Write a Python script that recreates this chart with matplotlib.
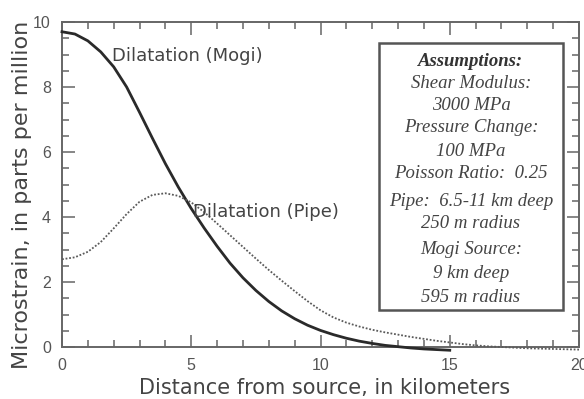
import matplotlib.pyplot as plt
from matplotlib.ticker import MultipleLocator

# distance from source, km
dist_mogi = [0, 0.5, 1, 1.5, 2, 2.5, 3, 3.5, 4, 4.5, 5, 5.5, 6, 6.5, 7, 7.5,
             8, 8.5, 9, 9.5, 10, 10.5, 11, 11.5, 12, 12.5, 13, 13.5, 14, 14.5, 15]
strain_mogi = [9.7, 9.63, 9.42, 9.08, 8.62, 8.0, 7.22, 6.42, 5.64, 4.92, 4.26,
               3.66, 3.1, 2.58, 2.13, 1.74, 1.4, 1.11, 0.87, 0.67, 0.51, 0.38,
               0.27, 0.18, 0.11, 0.05, 0.01, -0.03, -0.06, -0.08, -0.1]

dist_pipe = [0, 0.5, 1, 1.5, 2, 2.5, 3, 3.5, 4, 4.5, 5, 5.5, 6, 6.5, 7, 7.5,
             8, 8.5, 9, 9.5, 10, 10.5, 11, 11.5, 12, 12.5, 13, 13.5, 14, 14.5,
             15, 15.5, 16, 16.5, 17, 17.5, 18, 18.5, 19, 19.5, 20]
strain_pipe = [2.7, 2.76, 2.93, 3.23, 3.65, 4.09, 4.47, 4.68, 4.73, 4.65, 4.45,
               4.15, 3.8, 3.44, 3.08, 2.72, 2.37, 2.04, 1.72, 1.41, 1.13, 0.91,
               0.75, 0.63, 0.53, 0.45, 0.38, 0.31, 0.25, 0.19, 0.14, 0.09,
               0.05, 0.02, 0.0, -0.02, -0.04, -0.05, -0.06, -0.07, -0.08]

assumptions = ["Shear Modulus:", "3000 MPa", "Pressure Change:", "100 MPa",
               "Poisson Ratio:  0.25", "Pipe:  6.5-11 km deep", "250 m radius",
               "Mogi Source:", "9 km deep", "595 m radius"]

sans = ['DejaVu Sans']
serif = ['Liberation Serif', 'DejaVu Serif']
grey = '#444444'

fig = plt.figure(figsize=(5.84, 3.99), dpi=100)
ax = fig.add_axes([62 / 584, 52 / 399, 517 / 584, 325 / 399])

ax.plot(dist_mogi, strain_mogi, color='#2a2a2a', lw=2.0, clip_on=False,
        zorder=3, solid_joinstyle='round')
ax.plot(dist_pipe, strain_pipe, color='#5a5a5a', lw=1.3, ls=(0, (1, 1)),
        clip_on=False, zorder=3)

ax.set_xlim(0, 20)
ax.set_ylim(0, 10)
ax.xaxis.set_major_locator(MultipleLocator(5))
ax.xaxis.set_minor_locator(MultipleLocator(1))
ax.yaxis.set_major_locator(MultipleLocator(2))
ax.yaxis.set_minor_locator(MultipleLocator(0.5))
ax.tick_params(which='both', direction='in', top=True, right=True,
               color='#666666', width=1.1, labelcolor='#555555')
ax.tick_params(which='major', length=9, pad=8)
ax.tick_params(which='minor', length=5)
for lab in ax.get_xticklabels() + ax.get_yticklabels():
    lab.set_family('Liberation Sans')
    lab.set_fontsize(11.5)
for s in ax.spines.values():
    s.set_color('#666666')
    s.set_linewidth(1.4)

fig.text(325 / 584, 1 - 394 / 399, "Distance from source, in kilometers",
         family=sans, fontsize=15, color=grey, ha='center', va='baseline')
fig.text(22 / 584, 1 - 195 / 399, "Microstrain, in parts per million",
         family=sans, fontsize=16, color=grey, ha='center', va='center',
         rotation=90)

ax.text(1.95, 8.95, "Dilatation (Mogi)", family=sans, fontsize=13,
        color=grey, va='center', ha='left')
ax.text(5.05, 4.15, "Dilatation (Pipe)", family=sans, fontsize=13,
        color=grey, va='center', ha='left')

# assumptions box
box = plt.Rectangle((379 / 584, (399 - 310) / 399), 184 / 584, 267 / 399,
                    transform=fig.transFigure, fill=False, ec='#555555', lw=1.8)
fig.patches.append(box)
cx = 471 / 584
fig.text(cx, 1 - 61 / 399, "Assumptions:", family=serif, style='italic',
         weight='bold', fontsize=13.5, color='#333333', ha='center', va='center')
rows_y = [83, 106, 128, 151, 174, 202, 224, 250, 274, 297]
for t, py in zip(assumptions, rows_y):
    fig.text(cx, 1 - py / 399, t, family=serif, style='italic', fontsize=13.5,
             color='#444444', ha='center', va='center')

plt.savefig("out.png", dpi=100)
